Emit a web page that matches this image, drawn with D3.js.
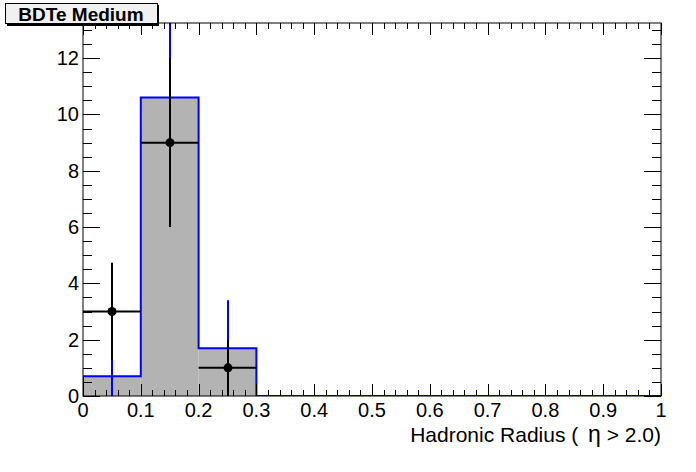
<!DOCTYPE html>
<html><head><meta charset="utf-8">
<script src="https://cdn.jsdelivr.net/npm/d3@7"></script>
<style>body{margin:0;background:#fff}svg{display:block}text{font-family:"Liberation Sans",Arial,sans-serif}</style>
</head><body>
<script>
const binEdges = [0,0.1,0.2,0.3,0.4,0.5,0.6,0.7,0.8,0.9,1.0];
const histValues = [0.7,10.6,1.7,0,0,0,0,0,0,0];
const histErrors = [0.7,3.3,1.7,0,0,0,0,0,0,0];
const dataX = [0.05,0.15,0.25];
const dataY = [3,9,1];
const dataErr = [1.73,3,1];
const xTicks = [0,0.1,0.2,0.3,0.4,0.5,0.6,0.7,0.8,0.9,1];
const yTicks = [0,2,4,6,8,10,12];
const title = "BDTe Medium";
const xTitleParts = ["Hadronic Radius ( ", "η", " > 2.0)"];

const W=696,H=472, L=83,R=661,T=23,B=396;
const svg=d3.select("body").append("svg").attr("width",W).attr("height",H);
const x=d3.scaleLinear().domain([0,1]).range([L,R]);
const y=d3.scaleLinear().domain([0,13.25]).range([B,T]);
svg.append("clipPath").attr("id","c").append("rect").attr("x",L).attr("y",T).attr("width",R-L).attr("height",B-T);
const g=svg.append("g").attr("clip-path","url(#c)");

const bins=histValues.map((v,i)=>({x0:binEdges[i],x1:binEdges[i+1],v,e:histErrors[i]}));
g.selectAll("rect.bar").data(bins).join("rect").attr("class","bar")
 .attr("x",d=>x(d.x0)).attr("width",d=>x(d.x1)-x(d.x0))
 .attr("y",d=>y(d.v)).attr("height",d=>y(0)-y(d.v)).attr("fill","#b3b3b3");
let pts=[[binEdges[0],0]];
bins.forEach(d=>{pts.push([d.x0,d.v]);pts.push([d.x1,d.v]);});
pts.push([binEdges[binEdges.length-1],0]);
g.append("path").attr("d",d3.line().x(p=>x(p[0])).y(p=>y(p[1]))(pts))
 .attr("fill","none").attr("stroke","#0000ff").attr("stroke-width",2);
g.selectAll("line.herr").data(bins.filter(d=>d.e>0)).join("line")
 .attr("x1",d=>Math.round(x((d.x0+d.x1)/2))).attr("x2",d=>Math.round(x((d.x0+d.x1)/2)))
 .attr("y1",d=>y(Math.max(0,d.v-d.e))).attr("y2",d=>y(d.v+d.e))
 .attr("stroke","#0000ff").attr("stroke-width",2);
const dp=dataX.map((v,i)=>({x:v,y:dataY[i],e:dataErr[i]}));
g.selectAll("line.dv").data(dp).join("line")
 .attr("x1",d=>Math.round(x(d.x))).attr("x2",d=>Math.round(x(d.x)))
 .attr("y1",d=>y(d.y-d.e)).attr("y2",d=>y(d.y+d.e)).attr("stroke","#000").attr("stroke-width",2);
g.selectAll("line.dh").data(dp).join("line")
 .attr("x1",d=>x(d.x-0.05)).attr("x2",d=>x(d.x+0.05))
 .attr("y1",d=>y(d.y)).attr("y2",d=>y(d.y)).attr("stroke","#000").attr("stroke-width",2);
g.selectAll("circle").data(dp).join("circle")
 .attr("cx",d=>Math.round(x(d.x))).attr("cy",d=>y(d.y)).attr("r",4.5).attr("fill","#000");

svg.append("rect").attr("x",L).attr("y",T).attr("width",R-L).attr("height",B-T)
 .attr("fill","none").attr("stroke","#000").attr("stroke-width",1);

const tk=svg.append("g").attr("stroke","#000").attr("stroke-width",1);
d3.range(0,1.0001,0.02).forEach(v=>{
  const major=Math.abs(v*10-Math.round(v*10))<1e-6;
  const len=major?12:6, xx=Math.round(x(v))+0.5;
  tk.append("line").attr("x1",xx).attr("x2",xx).attr("y1",B).attr("y2",B-len);
  tk.append("line").attr("x1",xx).attr("x2",xx).attr("y1",T).attr("y2",T+len);
});
d3.range(0,13.25,0.5).forEach(v=>{
  const major=v%2===0;
  const len=major?17:9, yy=Math.round(y(v))+0.5;
  tk.append("line").attr("x1",L).attr("x2",L+len).attr("y1",yy).attr("y2",yy);
  tk.append("line").attr("x1",R).attr("x2",R-len).attr("y1",yy).attr("y2",yy);
});
svg.append("g").selectAll("text").data(xTicks).join("text")
 .attr("x",d=>x(d)).attr("y",B+21).attr("text-anchor","middle").attr("font-size",20)
 .text(d=>d3.format("")(d));
svg.append("g").selectAll("text").data(yTicks).join("text")
 .attr("x",L-4).attr("y",d=>y(d)+7).attr("text-anchor","end").attr("font-size",20)
 .text(d=>d);
const xt=svg.append("text").attr("x",R).attr("y",442).attr("text-anchor","end").attr("font-size",21).attr("xml:space","preserve");
xt.append("tspan").text(xTitleParts[0]);
xt.append("tspan").attr("dx",4).attr("font-size",23).text(xTitleParts[1]);
xt.append("tspan").text(xTitleParts[2]);

svg.append("rect").attr("x",7).attr("y",5).attr("width",152).attr("height",21).attr("fill","#000");
svg.append("rect").attr("x",5.5).attr("y",3.5).attr("width",152).attr("height",20).attr("fill","#f0f0f0").attr("stroke","#000");
svg.append("text").attr("x",81).attr("y",20.5).attr("text-anchor","middle").attr("font-size",19).attr("font-weight","bold").text(title);
</script>
</body></html>
